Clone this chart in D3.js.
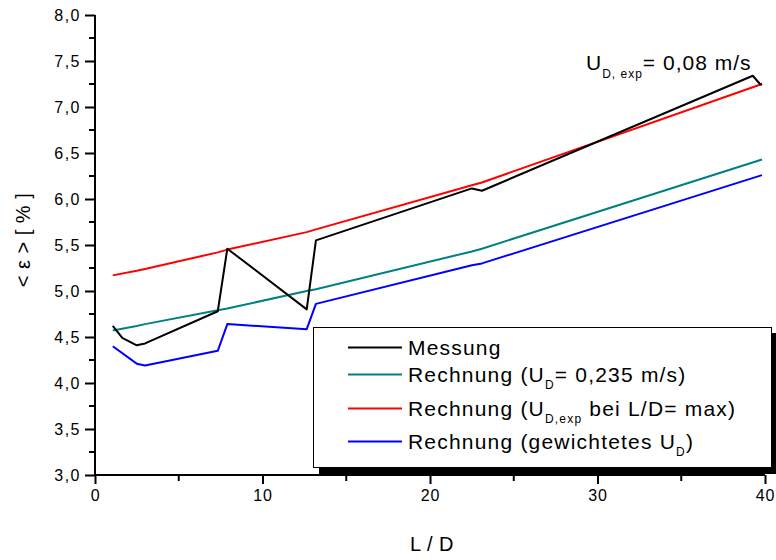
<!DOCTYPE html>
<html><head><meta charset="utf-8">
<script src="https://cdn.jsdelivr.net/npm/d3@7"></script>
<style>
body{margin:0;background:#fff;}
text{font-family:"Liberation Sans",Arial,sans-serif;fill:#000;}
</style></head>
<body><svg id="c" width="776" height="560"></svg>
<script>
// L/D positions
const ldMess = [1.06, 1.63, 2.49, 2.99, 7.33, 7.9, 12.64, 13.19, 22.5, 23.1, 39.27, 39.7, 39.82];
const messung = [4.62, 4.49, 4.41, 4.43, 4.78, 5.46, 4.80, 5.55, 6.115, 6.09, 7.34, 7.25, 7.24];
const ldCalc = [1.06, 2.49, 2.99, 7.33, 7.9, 12.64, 13.19, 22.5, 23.1, 39.82];
const rechTeal = [4.57, 4.62, 4.64, 4.79, 4.81, 5.00, 5.02, 5.43, 5.46, 6.43];
const rechRed  = [5.17, 5.22, 5.24, 5.42, 5.45, 5.64, 5.67, 6.15, 6.18, 7.25];
const rechBlue = [4.40, 4.21, 4.19, 4.35, 4.64, 4.585, 4.86, 5.28, 5.30, 6.26];
const xTicks = [0, 10, 20, 30, 40];
const yTicks = [3.0, 3.5, 4.0, 4.5, 5.0, 5.5, 6.0, 6.5, 7.0, 7.5, 8.0];

const svg = d3.select("#c");
const x = d3.scaleLinear().domain([0, 40]).range([95, 765]);
const y = d3.scaleLinear().domain([3, 8]).range([475, 15]);
const fmt = d => d.toFixed(1).replace(".", ",");

// axes
const yAxis = d3.axisLeft(y).tickValues(yTicks).tickFormat(fmt).tickSize(10).tickPadding(4);
const gy = svg.append("g").attr("transform", "translate(95,0)").call(yAxis);
gy.selectAll("text").style("font-size", "16px").style("letter-spacing", "1.5px").attr("dy", "0.35em");
const yMinor = d3.range(3.25, 8, 0.5);
svg.append("g").selectAll("line").data(yMinor).join("line")
  .attr("x1", 95).attr("x2", 89).attr("y1", d => y(d)).attr("y2", d => y(d));

const xAxis = d3.axisBottom(x).tickValues(xTicks).tickFormat(d3.format("d")).tickSize(9).tickPadding(6);
const gx = svg.append("g").attr("transform", "translate(0,475)").call(xAxis);
gx.selectAll("text").style("font-size", "16px").style("letter-spacing", "0.8px");
svg.append("g").selectAll("line").data([5, 15, 25, 35]).join("line")
  .attr("x1", d => x(d)).attr("x2", d => x(d)).attr("y1", 475).attr("y2", 481);

svg.selectAll(".domain").attr("stroke-width", 2);
svg.selectAll(".tick line").attr("stroke-width", 2);
svg.selectAll("g > line").attr("stroke", "#000").attr("stroke-width", 2);
gx.select(".domain").attr("d", "M95,0H765");
gy.select(".domain").attr("d", "M0,15V475");

// lines
const line = d3.line().x(d => x(d[0])).y(d => y(d[1]));
function draw(xs, ys, col) {
  svg.append("path").datum(xs.map((v, i) => [v, ys[i]]))
    .attr("d", line).attr("fill", "none").attr("stroke", col).attr("stroke-width", 2)
    .attr("stroke-linejoin", "round");
}
draw(ldCalc, rechTeal, "#008080");
draw(ldCalc, rechRed, "#ff0000");
draw(ldCalc, rechBlue, "#0000ff");
draw(ldMess, messung, "#000000");

// annotation
const ann = svg.append("text").attr("x", 586).attr("y", 70).style("font-size", "21px").style("letter-spacing", "1px");
ann.append("tspan").text("U");
ann.append("tspan").attr("dy", 8).style("font-size", "12px").text("D, exp");
ann.append("tspan").attr("dy", -8).text("= 0,08 m/s");

// legend
svg.append("rect").attr("x", 319).attr("y", 333).attr("width", 470).attr("height", 141).attr("fill", "#000");
svg.append("rect").attr("x", 313.5).attr("y", 327.5).attr("width", 458).attr("height", 140)
  .attr("fill", "#fff").attr("stroke", "#000").attr("stroke-width", 1);
const legend = [
  {c: "#000000", parts: [["Messung", 0]]},
  {c: "#008080", parts: [["Rechnung (U", 0], ["D", 1], ["= 0,235 m/s)", 0]]},
  {c: "#ff0000", parts: [["Rechnung (U", 0], ["D,exp", 1], [" bei L/D= max)", 0]]},
  {c: "#0000ff", parts: [["Rechnung (gewichtetes U", 0], ["D", 1], [")", 0]]}
];
const baselines = [355, 382, 416, 449];
legend.forEach((L, i) => {
  const b = baselines[i];
  svg.append("line").attr("x1", 348).attr("x2", 402).attr("y1", b - 7.5).attr("y2", b - 7.5)
    .attr("stroke", L.c).attr("stroke-width", 2);
  const t = svg.append("text").attr("x", 408).attr("y", b).style("font-size", "21px").style("letter-spacing", "1.2px");
  let sub = 0;
  L.parts.forEach(p => {
    const ts = t.append("tspan").text(p[0]);
    if (p[1] && !sub) { ts.attr("dy", 7).style("font-size", "12px"); sub = 1; }
    else if (!p[1] && sub) { ts.attr("dy", -7); sub = 0; }
  });
});

// axis titles
svg.append("text").attr("x", 432).attr("y", 551).attr("text-anchor", "middle")
  .style("font-size", "20px").style("letter-spacing", "0.5px").text("L / D");
svg.append("text").attr("transform", "translate(30,240) rotate(-90)").attr("text-anchor", "middle")
  .style("font-size", "20px").style("letter-spacing", "0.5px").text("< ε > [ % ]");
</script></body></html>
